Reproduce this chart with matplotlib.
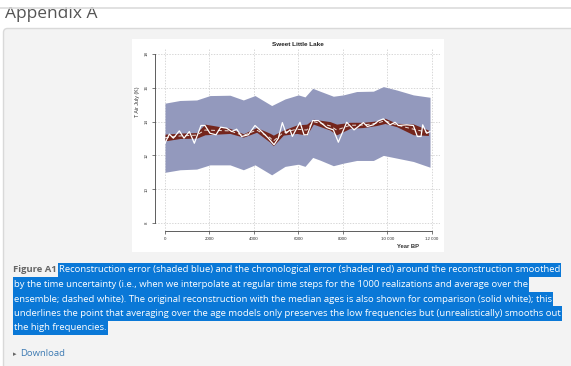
import matplotlib
matplotlib.use("Agg")
import matplotlib.pyplot as plt
from matplotlib.patches import Rectangle, FancyBboxPatch

# ---------------- data ----------------
blue_x = [0, 675, 1425, 2025, 2925, 3525, 4050, 4800, 5400, 6000, 6300, 6645, 6975,
          7575, 8025, 8625, 9375, 9825, 10425, 11175, 11925]
blue_upper = [15.09, 15.25, 15.28, 15.54, 15.56, 15.28, 15.54, 14.95, 15.34, 15.58, 15.46,
              15.97, 15.80, 15.50, 15.58, 15.78, 15.80, 16.07, 15.87, 15.58, 15.44]
blue_lower = [11.00, 11.15, 11.19, 11.44, 11.44, 11.15, 11.44, 10.85, 11.35, 11.48, 11.35,
              11.88, 11.72, 11.39, 11.54, 11.70, 11.70, 12.00, 11.84, 11.64, 11.30]

red_x = [0, 675, 1425, 1800, 2925, 3525, 4125, 4725, 4875, 5325, 5925, 6375, 6675,
         7425, 7725, 8325, 8925, 9525, 9900, 10425, 11175, 11850]
red_upper = [13.26, 13.32, 13.35, 13.85, 13.60, 13.28, 13.65, 13.31, 13.20, 13.50, 13.80,
             13.85, 14.14, 14.00, 13.85, 13.96, 13.96, 14.04, 14.20, 13.90, 13.86, 13.50]
red_lower = [12.86, 13.00, 13.02, 13.22, 13.30, 13.08, 13.37, 12.78, 12.57, 13.20, 13.30,
             13.20, 13.85, 13.50, 13.22, 13.60, 13.65, 13.77, 13.89, 13.70, 13.22, 13.18]
mean_y = [13.05, 13.15, 13.20, 13.50, 13.45, 13.18, 13.50, 13.05, 12.85, 13.35, 13.55,
          13.50, 14.00, 13.75, 13.50, 13.78, 13.80, 13.90, 14.05, 13.80, 13.55, 13.35]

recon_x = [0, 195, 375, 645, 855, 1095, 1320, 1620, 1800, 2025, 2295, 2505, 2775, 3000,
           3225, 3450, 3750, 4050, 4350, 4650, 4905, 5100, 5280, 5445, 5625, 5730, 6075,
           6255, 6405, 6645, 6900, 7275, 7575, 7800, 8175, 8505, 8925, 9105, 9375, 9600,
           9825, 10125, 10350, 10500, 10875, 11175, 11355, 11520, 11595, 11775, 11925]
recon_y = [12.72, 13.26, 13.02, 13.45, 13.02, 13.41, 12.72, 13.77, 13.77, 13.31, 13.22,
           13.67, 13.61, 13.41, 13.55, 13.12, 13.22, 13.77, 13.41, 13.02, 12.63, 13.02,
           13.94, 13.31, 13.51, 13.12, 13.96, 13.22, 13.22, 14.06, 14.06, 13.65, 13.51,
           12.78, 13.96, 13.51, 13.94, 13.71, 13.81, 14.04, 14.16, 13.81, 13.96, 13.77,
           13.81, 13.77, 13.12, 13.12, 13.81, 13.31, 13.41]

x_ticks = [0, 2000, 4000, 6000, 8000, 10000, 12000]
x_tick_labels = ["0", "2000", "4000", "6000", "8000", "10 000", "12 000"]
y_ticks = [8, 10, 12, 14, 16, 18]

title = "Sweet Little Lake"
x_label = "Year BP"
y_label = "T Air July (K)"

caption_lines = [
    "Reconstruction error (shaded blue) and the chronological error (shaded red) around the reconstruction smoothed",
    "by the time uncertainty (i.e., when we interpolate at regular time steps for the 1000 realizations and average over the",
    "ensemble; dashed white). The original reconstruction with the median ages is also shown for comparison (solid white); this",
    "underlines the point that averaging over the age models only preserves the low frequencies but (unrealistically) smooths out",
    "the high frequencies.",
]

# ---------------- figure ----------------
W, H = 571, 366
fig = plt.figure(figsize=(W / 100, H / 100), dpi=100)
fig.patch.set_facecolor("white")

bg = fig.add_axes([0, 0, 1, 1])
bg.set_xlim(0, W)
bg.set_ylim(H, 0)
bg.axis("off")

# grey content box
bg.add_patch(FancyBboxPatch((3.5, 28.5), W + 20, H, boxstyle="round,pad=0,rounding_size=4",
                            facecolor="#f3f3f3", edgecolor="#d9d9d9", lw=1))
# heading (top clipped by the sticky bar)
bg.text(5, 17.5, "Appendix A", fontsize=12.5, color="#555555", family="Open Sans",
        va="baseline", ha="left")
bg.add_patch(Rectangle((0, 0), W, 7, facecolor="white", edgecolor="none", zorder=5))
bg.plot([0, W], [7.5, 7.5], color="#dcdcdc", lw=1.2, zorder=6)

# white image area
bg.add_patch(Rectangle((132, 39), 312, 213, facecolor="white", edgecolor="none"))

# caption
cap_fs = 6.8
line_y = [270, 284.5, 299, 313.5, 328]
bg.text(13, line_y[0], "Figure A1", fontsize=cap_fs, color="#666666", family="Open Sans",
        fontweight="bold", va="center", ha="left")
cap_texts = []
for i, line in enumerate(caption_lines):
    x0 = 59 if i == 0 else 14
    t = bg.text(x0, line_y[i], line, fontsize=cap_fs, color="white", family="Open Sans",
                va="center", ha="left", zorder=3)
    cap_texts.append(t)
fig.canvas.draw()
r = fig.canvas.get_renderer()
inv = bg.transData.inverted()
for i, t in enumerate(cap_texts):
    ext = t.get_window_extent(renderer=r)
    (xa, _), (xb, _) = inv.transform([(ext.x0, ext.y0), (ext.x1, ext.y1)])
    bg.add_patch(Rectangle((xa - 1, line_y[i] - 7.3), xb - xa + 2, 14.6,
                           facecolor="#0a78d7", edgecolor="none", zorder=2))

bg.text(13, 354, "\u25b8", fontsize=5, color="#666666", family="DejaVu Sans",
        va="center", ha="left")
bg.text(20, 354, "Download", fontsize=cap_fs, color="#3e7bb3", family="Open Sans",
        va="center", ha="left")

# ---------------- chart ----------------
px_l, px_r, px_t, px_b = 155, 440, 48, 231
ax = fig.add_axes([px_l / W, 1 - px_b / H, (px_r - px_l) / W, (px_b - px_t) / H])
ax.set_facecolor("none")
sx = 266.7 / 12000.0
sy = 16.9
ax.set_xlim(-(165 - px_l) / sx, (px_r - 165) / sx)
ax.set_ylim(8 - (px_b - 223) / sy, 18 + (54 - px_t) / sy)

ax.fill_between(blue_x, blue_lower, blue_upper, color="#9399bd", lw=0, zorder=2)
ax.fill_between(red_x, red_lower, red_upper, color="#74251c", lw=0, zorder=3)
ax.plot(red_x, mean_y, color="#e8e0dc", lw=0.7, ls=(0, (4, 3)), zorder=4)
ax.plot(recon_x, recon_y, color="white", lw=0.9, zorder=5)

for xt in x_ticks:
    ax.axvline(xt, color="#c8c8c8", lw=0.5, ls=(0, (2, 2)), zorder=1)
for yt in y_ticks:
    ax.axhline(yt, color="#c8c8c8", lw=0.5, ls=(0, (2, 2)), zorder=1)

for s in ["top", "right"]:
    ax.spines[s].set_visible(False)
ax.spines["left"].set_bounds(8, 18)
ax.spines["bottom"].set_bounds(0, 12000)
for s in ["left", "bottom"]:
    ax.spines[s].set_color("#444444")
    ax.spines[s].set_linewidth(0.6)

ax.set_xticks(x_ticks)
ax.set_xticklabels(x_tick_labels)
ax.set_yticks(y_ticks)
ax.set_yticklabels([str(v) for v in y_ticks], rotation=90, va="center")
ax.tick_params(axis="both", length=2.5, width=0.5, color="#444444", labelsize=3.2,
               labelcolor="#333333", pad=2)
for lab in ax.get_xticklabels() + ax.get_yticklabels():
    lab.set_family("Liberation Sans")

bg.text(298, 44, title, fontsize=4.6, fontweight="bold", family="Liberation Sans",
        color="#222222", ha="center", va="center")
bg.text(408, 247, x_label, fontsize=4.2, fontweight="bold", family="Liberation Sans",
        color="#333333", ha="center", va="center")
bg.text(137.5, 102, y_label, fontsize=3.8, family="Liberation Sans", color="#333333",
        ha="center", va="center", rotation=90)

fig.savefig("out.png", dpi=100)
